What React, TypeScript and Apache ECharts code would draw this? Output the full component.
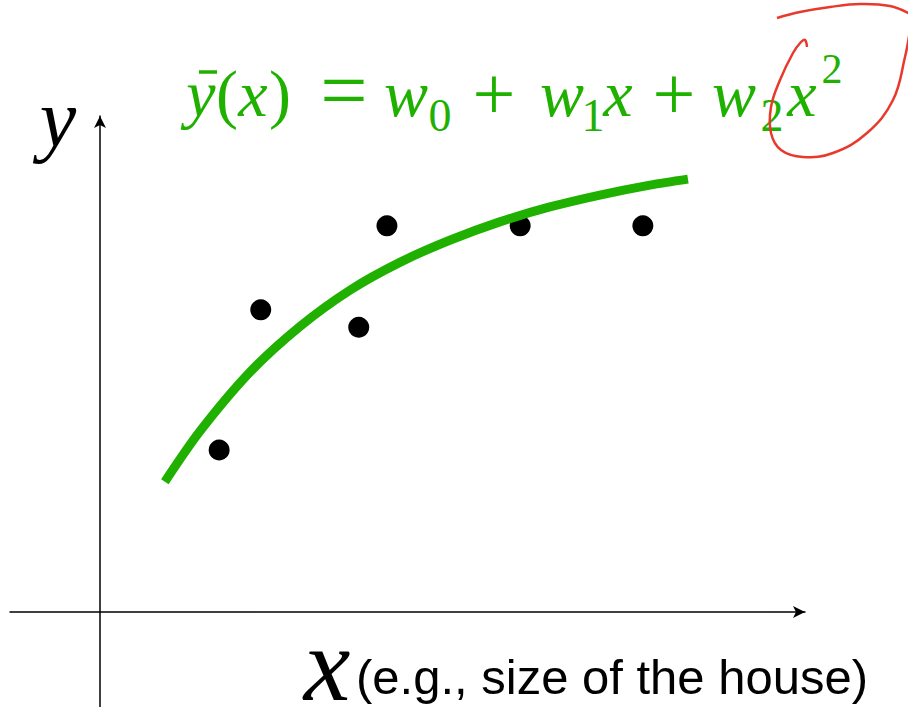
import React, { useEffect, useRef } from "react";
import * as echarts from "echarts";

// Observed samples (house size vs. value), arbitrary units
const sampleX = [1.69, 2.28, 3.67, 4.07, 5.96, 7.7];
const sampleY = [3.26, 6.08, 5.73, 7.77, 7.77, 7.77];

// Fitted quadratic curve, sampled along its length
const fitX = [0.92, 1.42, 2.13, 2.84, 3.55, 4.26, 4.96, 5.67, 6.38, 7.09, 7.8, 8.34];
const fitY = [2.62, 3.64, 4.83, 5.75, 6.48, 7.04, 7.48, 7.85, 8.15, 8.39, 8.59, 8.71];

// Axis extents (the axes cross at 0, 0)
const xRange = [-1.2766, 10.0];
const yRange = [-1.9115, 9.98];

// Hand-drawn red loop around the x² term
const loopTop: number[][] = [
  [777, 18], [800, 12], [830, 7], [860, 4], [890, 6], [910, 14],
];
const loopBody: number[][] = [
  [910, 30], [905, 57], [893, 100], [867, 133], [833, 153], [803, 157],
  [781, 150], [771, 133], [771, 107], [780, 80], [793, 53], [801, 42], [805, 40], [807, 47],
];

const GREEN = "#20b000";
const SERIF = "'Liberation Serif', 'Times New Roman', serif";
const SANS = "'Liberation Sans', Arial, sans-serif";

type Piece = { t: string; x: number; y: number; fs: number; italic: boolean };

// Formula ȳ(x) = w0 + w1 x + w2 x²
const MAIN = 66;
const OP = 76;
const EQ = 84;
const SUB = 46;
const SUP = 42;
const BASE = 116;
const mid = (baseline: number, fs: number) => baseline - 0.3375 * fs;
const formula: Piece[] = [
  { t: "y", x: 201, y: mid(BASE, MAIN), fs: MAIN, italic: true },
  { t: "(", x: 227, y: mid(BASE, MAIN), fs: MAIN, italic: false },
  { t: "x", x: 253, y: mid(BASE, MAIN), fs: MAIN, italic: true },
  { t: ")", x: 280, y: mid(BASE, MAIN), fs: MAIN, italic: false },
  { t: "=", x: 344, y: 90, fs: EQ, italic: false },
  { t: "w", x: 406, y: mid(BASE, MAIN), fs: MAIN, italic: true },
  { t: "0", x: 440, y: mid(131, SUB), fs: SUB, italic: false },
  { t: "+", x: 494, y: mid(BASE + 3, OP), fs: OP, italic: false },
  { t: "w", x: 562, y: mid(BASE, MAIN), fs: MAIN, italic: true },
  { t: "1", x: 593, y: mid(131, SUB), fs: SUB, italic: false },
  { t: "x", x: 618, y: mid(BASE, MAIN), fs: MAIN, italic: true },
  { t: "+", x: 674, y: mid(BASE + 3, OP), fs: OP, italic: false },
  { t: "w", x: 734, y: mid(BASE, MAIN), fs: MAIN, italic: true },
  { t: "2", x: 772, y: mid(131, SUB), fs: SUB, italic: false },
  { t: "x", x: 802, y: mid(BASE, MAIN), fs: MAIN, italic: true },
  { t: "2", x: 832, y: mid(83, SUP), fs: SUP, italic: false },
];

const hiddenAxisParts = {
  axisTick: { show: false },
  axisLabel: { show: false },
  splitLine: { show: false },
};

const arrowLine = {
  onZero: true,
  lineStyle: { color: "#000", width: 1.5 },
  symbol: ["none", "arrow"],
  symbolSize: [9, 12],
};

export default function App() {
  const ref = useRef<HTMLDivElement>(null);

  useEffect(() => {
    if (!ref.current) return;
    const chart = echarts.init(ref.current, undefined, { renderer: "svg" });

    const textEls: any[] = formula.map((p) => ({
      type: "text",
      x: p.x,
      y: p.y,
      z: 10,
      style: {
        text: p.t,
        fill: GREEN,
        font: `${p.italic ? "italic " : ""}${p.fs}px ${SERIF}`,
        align: "center",
        verticalAlign: "middle",
      },
    }));

    chart.setOption({
      animation: false,
      backgroundColor: "#ffffff",
      grid: { left: 10, right: 103, top: 116, bottom: 0, containLabel: false },
      xAxis: {
        type: "value",
        min: xRange[0],
        max: xRange[1],
        axisLine: arrowLine,
        ...hiddenAxisParts,
      },
      yAxis: {
        type: "value",
        min: yRange[0],
        max: yRange[1],
        axisLine: arrowLine,
        ...hiddenAxisParts,
      },
      series: [
        {
          type: "scatter",
          data: sampleX.map((x, i) => [x, sampleY[i]]),
          symbol: "circle",
          symbolSize: 21,
          itemStyle: { color: "#000", opacity: 1 },
          z: 2,
        },
        {
          type: "line",
          data: fitX.map((x, i) => [x, fitY[i]]),
          smooth: 0.3,
          showSymbol: false,
          symbol: "none",
          lineStyle: { color: GREEN, width: 9, cap: "butt" },
          z: 3,
        },
      ],
      graphic: [
        ...textEls,
        {
          type: "line",
          z: 10,
          shape: { x1: 199, y1: 72, x2: 217, y2: 72 },
          style: { stroke: GREEN, lineWidth: 3.5 },
        },
        {
          type: "polyline",
          z: 11,
          shape: { points: loopTop, smooth: 0.4 },
          style: { stroke: "#e8392c", lineWidth: 2.5, fill: "none" },
        },
        {
          type: "polyline",
          z: 11,
          shape: { points: loopBody, smooth: 0.4 },
          style: { stroke: "#e8392c", lineWidth: 2.5, fill: "none" },
        },
        {
          type: "text",
          x: 58,
          y: mid(145.7, 82),
          style: {
            text: "y",
            fill: "#000",
            font: `italic 82px ${SERIF}`,
            align: "center",
            verticalAlign: "middle",
            lineHeight: 60,
          },
        },
        {
          type: "text",
          x: 327,
          y: mid(700, 105),
          style: {
            text: "x",
            fill: "#000",
            font: `italic 105px ${SERIF}`,
            align: "center",
            verticalAlign: "middle",
            lineHeight: 60,
          },
        },
        {
          type: "text",
          x: 356,
          y: 694 - 0.3465 * 49,
          style: {
            text: "(e.g., size of the house)",
            fill: "#000",
            font: `49px ${SANS}`,
            align: "left",
            verticalAlign: "middle",
            lineHeight: 50,
          },
        },
      ],
    });

    return () => chart.dispose();
  }, []);

  return (
    <div
      ref={ref}
      style={{ position: "fixed", left: 0, top: 0, width: 908, height: 707 }}
    />
  );
}
